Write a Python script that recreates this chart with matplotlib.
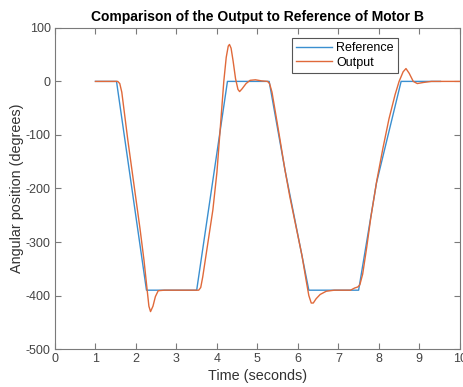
import numpy as np
import matplotlib
matplotlib.use("Agg")
import matplotlib.pyplot as plt

# reference trajectory (piecewise linear)
ref_t = [1.0, 1.52, 2.26, 3.5, 4.26, 5.29, 5.68, 6.27, 7.5, 7.94, 8.55, 9.52]
ref_y = [0, 0, -390, -390, 0, 0, -165, -390, -390, -190, 0, 0]

# measured output of motor B
out_t = [1.0, 1.55, 1.6, 1.65, 1.7, 1.8, 1.9, 2.0, 2.1, 2.2, 2.27, 2.32, 2.36,
         2.42, 2.48, 2.55, 2.7, 3.55, 3.6, 3.65, 3.75, 3.9, 4.0, 4.1, 4.17,
         4.23, 4.28, 4.31, 4.35, 4.4, 4.46, 4.52, 4.56, 4.62, 4.72, 4.82, 4.95,
         5.1, 5.25, 5.3, 5.36, 5.45, 5.55, 5.68, 5.8, 5.95, 6.1, 6.2, 6.27, 6.33,
         6.38, 6.45, 6.55, 6.7, 6.9, 7.3, 7.4, 7.48, 7.53, 7.6, 7.7, 7.8, 7.95,
         8.1, 8.25, 8.4, 8.5, 8.6, 8.67, 8.75, 8.85, 8.95, 9.1, 9.3, 10.0]
out_y = [0, 0, -4, -20, -50, -110, -165, -220, -275, -335, -385, -420, -430,
         -420, -402, -391, -390, -390, -385, -365, -315, -240, -170, -70, 0,
         45, 66, 69, 62, 38, 5, -15, -19, -14, -4, 2, 3,
         1, 0, -4, -20, -60, -105, -165, -215, -270, -325, -370, -400, -414,
         -414, -406, -398, -392, -390, -390, -386, -384, -380, -360, -310, -255, -185,
         -125, -70, -25, 0, 18, 24, 15, 0, -4, -2, 0, 0]

xticks = list(range(0, 11))
yticks = [100, 0, -100, -200, -300, -400, -500]


def main():
    plt.rcParams['font.family'] = ['Liberation Sans', 'DejaVu Sans']
    plt.rcParams['axes.unicode_minus'] = False
    fig = plt.figure(figsize=(4.64, 3.87), dpi=100)
    ax = fig.add_axes([0.1185, 0.098, 0.8725, 0.83])

    ax.plot(ref_t, ref_y, color='#3a8fd0', linewidth=1.0, label='Reference')
    ax.plot(out_t, out_y, color='#e0693a', linewidth=1.0, label='Output')

    ax.set_xlim(0, 10)
    ax.set_ylim(-500, 100)
    ax.set_xticks(xticks)
    ax.set_yticks(yticks)

    gray = '#7a7a7a'
    for s in ax.spines.values():
        s.set_color(gray)
        s.set_linewidth(0.8)
    ax.tick_params(direction='in', top=True, right=True, length=4, width=0.8,
                   colors=gray, labelcolor='#444444', labelsize=9, pad=3)

    ax.set_xlabel('Time (seconds)', fontsize=10.4, color='#333333', labelpad=3)
    ax.set_ylabel('Angular position (degrees)', fontsize=10.4, color='#333333', labelpad=1)
    ax.set_title('Comparison of the Output to Reference of Motor B',
                 fontsize=10, fontweight='bold', pad=5)

    leg = ax.legend(loc='upper right', bbox_to_anchor=(0.847, 0.969), fontsize=9,
                    fancybox=False, framealpha=1, edgecolor='#555555',
                    handlelength=2.9, borderpad=0.35, labelspacing=0.2,
                    handletextpad=0.3, borderaxespad=0)
    leg.get_frame().set_linewidth(0.8)

    fig.savefig('out.png', dpi=100)


if __name__ == "__main__":
    main()
